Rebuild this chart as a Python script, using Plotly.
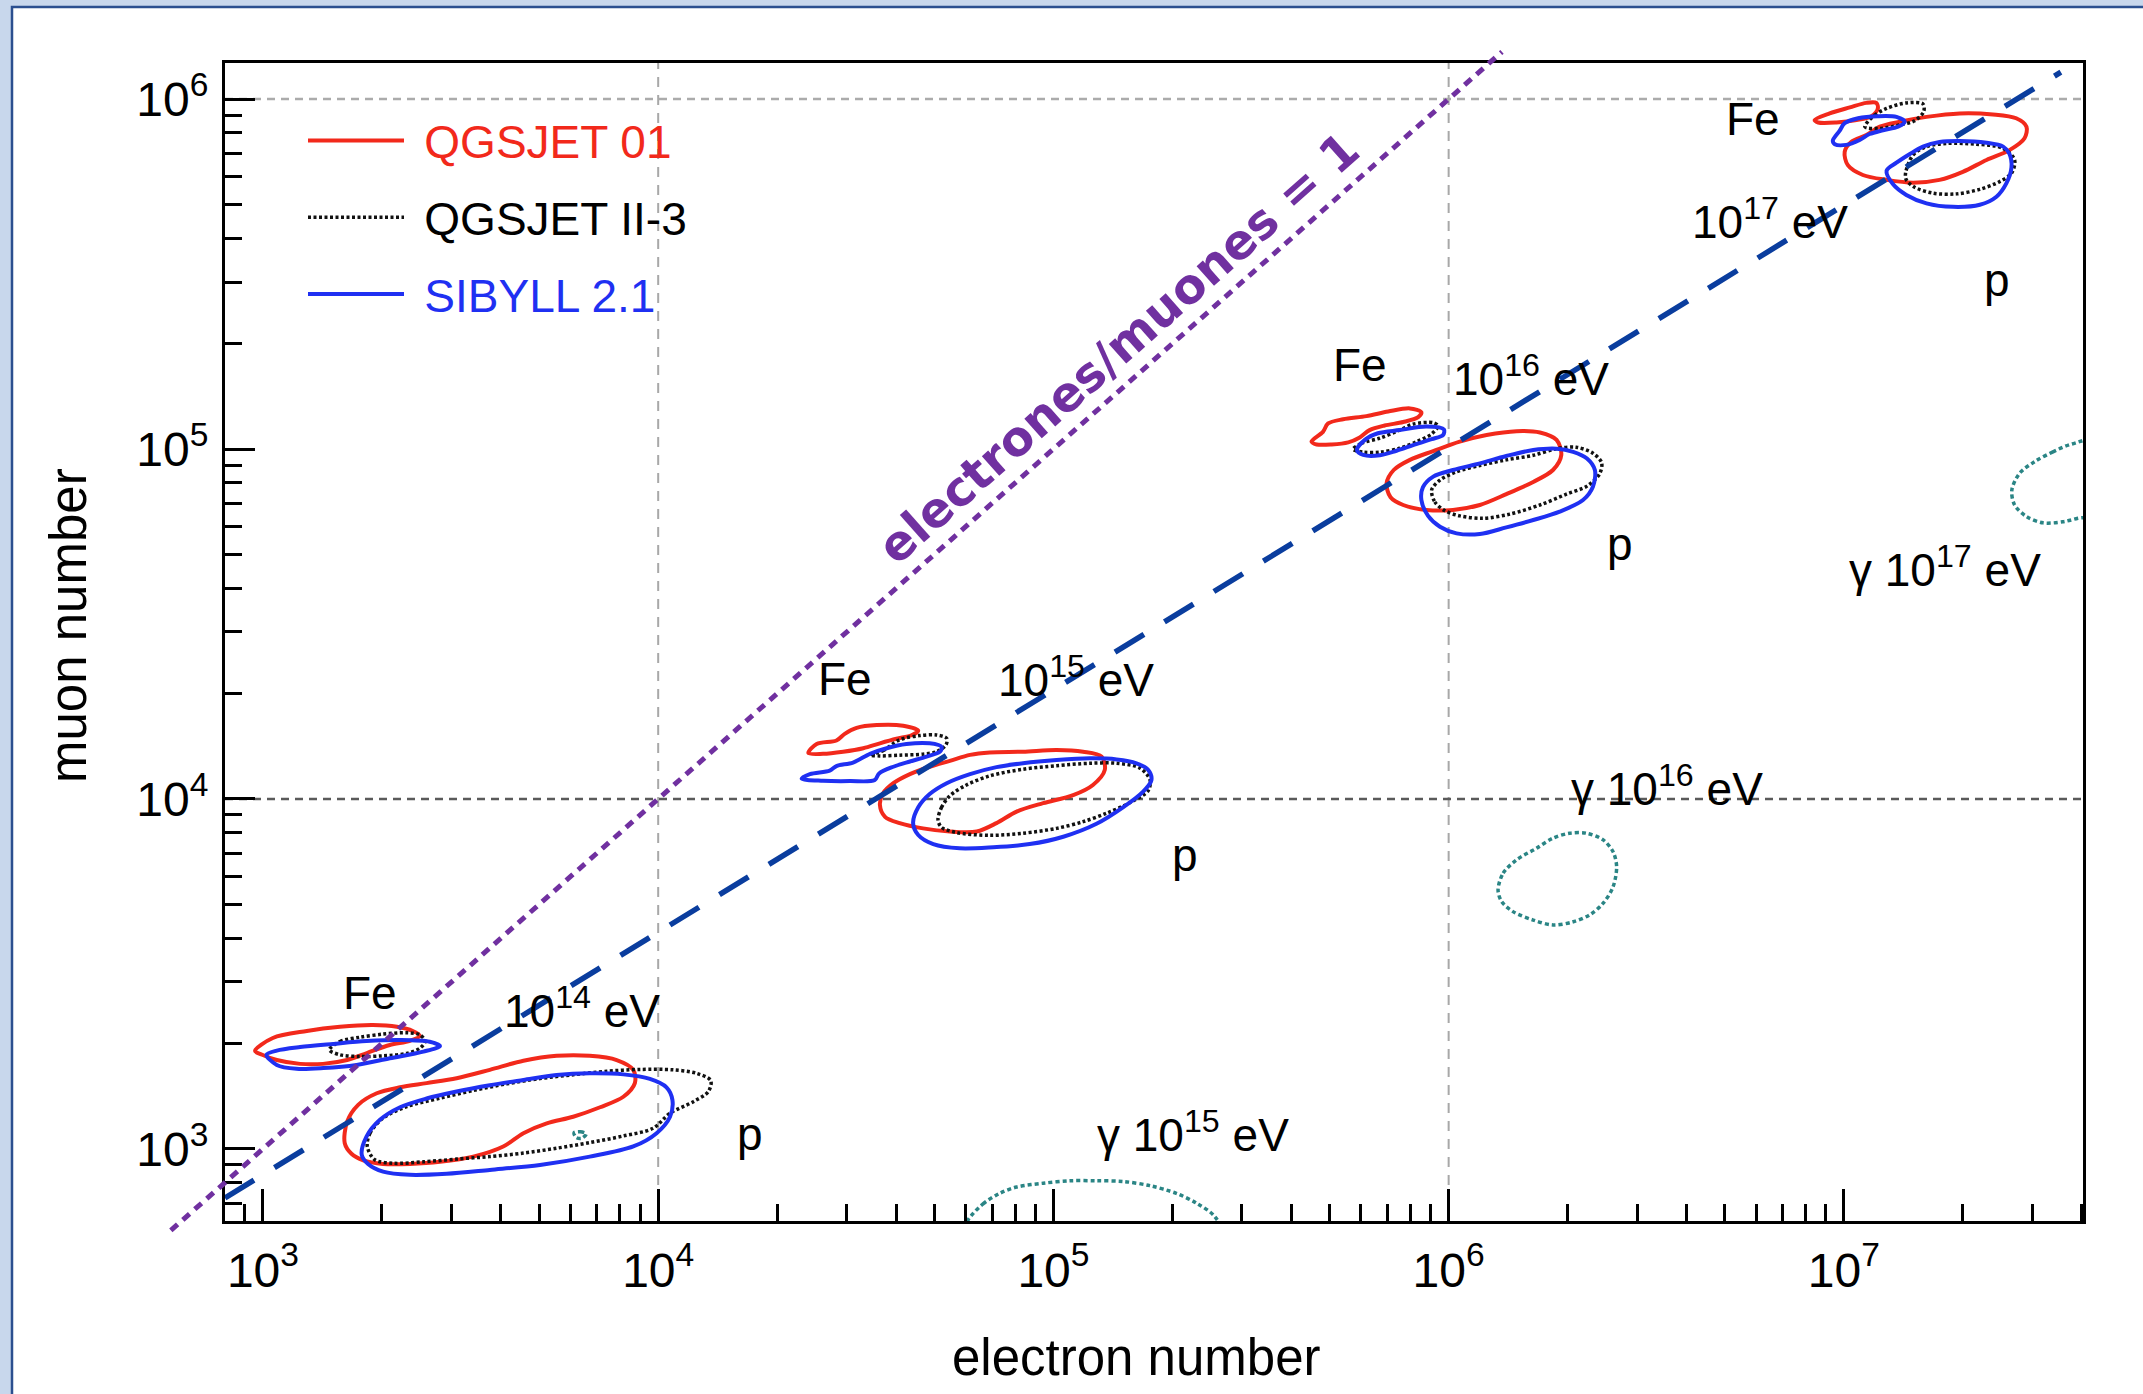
import plotly.graph_objects as go

# ---------------------------------------------------------------------------
# Shower-size contours in the (electron number, muon number) plane.
# All coordinates are log10 values: lg_ne = log10(N_e), lg_nmu = log10(N_mu).
# ---------------------------------------------------------------------------

# ---- 10^14 eV ----
qgs01_fe14_lgne = [2.980, 3.025, 3.111, 3.195, 3.278, 3.339, 3.379, 3.397, 3.372, 3.321, 3.263, 3.213, 3.152, 3.094, 3.035, 2.998]
qgs01_fe14_lgnmu = [3.280, 3.317, 3.337, 3.349, 3.354, 3.349, 3.337, 3.323, 3.309, 3.297, 3.274, 3.254, 3.243, 3.243, 3.254, 3.269]
qgs2_fe14_lgne = [3.168, 3.195, 3.245, 3.304, 3.364, 3.397, 3.410, 3.397, 3.364, 3.304, 3.245, 3.195]
qgs2_fe14_lgnmu = [3.283, 3.307, 3.319, 3.328, 3.332, 3.326, 3.307, 3.288, 3.273, 3.266, 3.264, 3.269]
sib_fe14_lgne = [3.009, 3.035, 3.085, 3.153, 3.237, 3.321, 3.406, 3.448, 3.422, 3.347, 3.262, 3.178, 3.094, 3.035]
sib_fe14_lgnmu = [3.269, 3.240, 3.229, 3.231, 3.240, 3.259, 3.278, 3.294, 3.306, 3.311, 3.308, 3.300, 3.291, 3.281]

qgs01_p14_lgne = [3.207, 3.224, 3.254, 3.304, 3.372, 3.448, 3.532, 3.608, 3.659, 3.718, 3.785, 3.853, 3.912, 3.941, 3.937, 3.895, 3.827, 3.743, 3.659, 3.574, 3.490, 3.414, 3.347, 3.288, 3.241, 3.213]
qgs01_p14_lgnmu = [3.016, 2.986, 2.967, 2.957, 2.957, 2.963, 2.978, 3.007, 3.045, 3.073, 3.092, 3.119, 3.149, 3.188, 3.226, 3.254, 3.266, 3.266, 3.252, 3.226, 3.202, 3.188, 3.176, 3.159, 3.126, 3.078]
qgs2_p14_lgne = [3.264, 3.271, 3.304, 3.364, 3.448, 3.532, 3.617, 3.701, 3.785, 3.870, 3.954, 4.038, 4.097, 4.133, 4.127, 4.089, 4.030, 3.987, 3.912, 3.827, 3.743, 3.659, 3.574, 3.490, 3.406, 3.330, 3.283]
qgs2_p14_lgnmu = [3.007, 3.045, 3.088, 3.121, 3.145, 3.167, 3.186, 3.201, 3.212, 3.222, 3.227, 3.226, 3.216, 3.195, 3.164, 3.135, 3.102, 3.059, 3.037, 3.018, 3.002, 2.988, 2.978, 2.971, 2.963, 2.959, 2.969]
sib_p14_lgne = [3.250, 3.266, 3.304, 3.372, 3.465, 3.574, 3.701, 3.827, 3.937, 3.996, 4.030, 4.036, 4.021, 3.979, 3.912, 3.827, 3.743, 3.659, 3.574, 3.490, 3.414, 3.347, 3.296, 3.262]
sib_p14_lgnmu = [2.983, 2.957, 2.935, 2.926, 2.929, 2.940, 2.954, 2.978, 3.007, 3.045, 3.092, 3.140, 3.176, 3.200, 3.213, 3.216, 3.211, 3.197, 3.182, 3.164, 3.144, 3.119, 3.083, 3.035]

gamma14_lgne = [3.787, 3.803, 3.818, 3.806, 3.792]
gamma14_lgnmu = [3.046, 3.049, 3.043, 3.030, 3.033]

# ---- 10^15 eV ----
qgs01_fe15_lgne = [4.380, 4.401, 4.451, 4.472, 4.502, 4.553, 4.620, 4.658, 4.641, 4.603, 4.561, 4.519, 4.468, 4.417]
qgs01_fe15_lgnmu = [4.131, 4.157, 4.167, 4.186, 4.203, 4.211, 4.209, 4.195, 4.182, 4.172, 4.159, 4.145, 4.135, 4.129]
qgs2_fe15_lgne = [4.536, 4.569, 4.611, 4.662, 4.704, 4.730, 4.728, 4.704, 4.670, 4.611, 4.561]
qgs2_fe15_lgnmu = [4.126, 4.138, 4.169, 4.181, 4.183, 4.173, 4.154, 4.135, 4.128, 4.125, 4.123]
sib_fe15_lgne = [4.363, 4.417, 4.485, 4.548, 4.559, 4.595, 4.637, 4.679, 4.713, 4.717, 4.687, 4.628, 4.578, 4.536, 4.493, 4.451, 4.434, 4.384]
sib_fe15_lgnmu = [4.058, 4.052, 4.051, 4.054, 4.073, 4.092, 4.107, 4.121, 4.135, 4.149, 4.159, 4.157, 4.145, 4.129, 4.104, 4.094, 4.081, 4.071]

qgs01_p15_lgne = [4.561, 4.574, 4.611, 4.670, 4.738, 4.806, 4.856, 4.907, 4.974, 5.050, 5.100, 5.130, 5.122, 5.075, 5.008, 4.923, 4.839, 4.789, 4.738, 4.687, 4.637, 4.595, 4.569]
qgs01_p15_lgnmu = [3.983, 3.949, 3.931, 3.916, 3.907, 3.907, 3.931, 3.964, 3.988, 4.011, 4.040, 4.083, 4.121, 4.135, 4.140, 4.135, 4.133, 4.126, 4.109, 4.092, 4.071, 4.045, 4.016]
qgs2_p15_lgne = [4.708, 4.717, 4.738, 4.780, 4.839, 4.923, 5.008, 5.092, 5.160, 5.219, 5.244, 5.240, 5.193, 5.134, 5.075, 5.008, 4.923, 4.839, 4.755, 4.717]
qgs2_p15_lgnmu = [3.940, 3.976, 4.009, 4.040, 4.066, 4.085, 4.095, 4.102, 4.102, 4.088, 4.056, 4.024, 3.989, 3.959, 3.935, 3.916, 3.902, 3.896, 3.904, 3.919]
sib_p15_lgne = [4.645, 4.658, 4.696, 4.763, 4.848, 4.940, 5.025, 5.109, 5.176, 5.227, 5.248, 5.240, 5.210, 5.160, 5.092, 5.008, 4.923, 4.856, 4.789, 4.730, 4.687, 4.658]
sib_p15_lgnmu = [3.931, 3.897, 3.871, 3.859, 3.862, 3.871, 3.892, 3.929, 3.976, 4.021, 4.054, 4.083, 4.102, 4.113, 4.116, 4.111, 4.102, 4.091, 4.071, 4.045, 4.014, 3.976]

gamma15_lgne = [4.784, 4.822, 4.864, 4.907, 4.974, 5.042, 5.109, 5.176, 5.244, 5.311, 5.362, 5.408, 5.434, 4.763]
gamma15_lgnmu = [2.797, 2.843, 2.873, 2.891, 2.902, 2.909, 2.909, 2.907, 2.895, 2.873, 2.845, 2.807, 2.740, 2.740]

# ---- 10^16 eV ----
qgs01_fe16_lgne = [5.653, 5.682, 5.695, 5.733, 5.792, 5.847, 5.902, 5.931, 5.923, 5.885, 5.838, 5.800, 5.775, 5.746, 5.704, 5.666]
qgs01_fe16_lgnmu = [5.021, 5.049, 5.073, 5.085, 5.094, 5.107, 5.116, 5.105, 5.091, 5.077, 5.067, 5.054, 5.033, 5.019, 5.013, 5.013]
qgs2_fe16_lgne = [5.758, 5.779, 5.826, 5.876, 5.910, 5.961, 5.973, 5.957, 5.919, 5.876, 5.826, 5.784]
qgs2_fe16_lgnmu = [4.999, 5.016, 5.031, 5.054, 5.071, 5.075, 5.066, 5.043, 5.021, 5.002, 4.991, 4.991]
sib_fe16_lgne = [5.768, 5.788, 5.821, 5.876, 5.944, 5.988, 5.986, 5.957, 5.910, 5.868, 5.826, 5.784]
sib_fe16_lgnmu = [4.997, 5.026, 5.045, 5.054, 5.064, 5.056, 5.040, 5.028, 5.011, 4.995, 4.982, 4.983]

qgs01_p16_lgne = [5.843, 5.853, 5.885, 5.944, 6.011, 6.079, 6.146, 6.214, 6.264, 6.285, 6.273, 6.231, 6.172, 6.096, 6.028, 5.961, 5.902, 5.861]
qgs01_p16_lgnmu = [4.902, 4.862, 4.840, 4.826, 4.826, 4.840, 4.871, 4.906, 4.940, 4.983, 5.026, 5.047, 5.051, 5.040, 5.021, 4.994, 4.969, 4.940]
qgs2_p16_lgne = [5.957, 5.965, 5.990, 6.028, 6.087, 6.155, 6.231, 6.298, 6.350, 6.382, 6.387, 6.365, 6.323, 6.273, 6.214, 6.146, 6.079, 6.020, 5.978]
qgs2_p16_lgnmu = [4.883, 4.849, 4.824, 4.809, 4.802, 4.814, 4.840, 4.871, 4.894, 4.929, 4.961, 4.988, 5.005, 5.001, 4.982, 4.969, 4.953, 4.935, 4.911]
sib_p16_lgne = [5.931, 5.948, 5.978, 6.020, 6.079, 6.146, 6.214, 6.281, 6.340, 6.365, 6.370, 6.350, 6.315, 6.273, 6.214, 6.146, 6.079, 6.011, 5.961, 5.935]
sib_p16_lgnmu = [4.854, 4.809, 4.778, 4.759, 4.757, 4.776, 4.797, 4.821, 4.854, 4.892, 4.940, 4.973, 4.992, 5.001, 4.997, 4.980, 4.959, 4.940, 4.921, 4.891]

gamma16_lgne = [6.125, 6.138, 6.172, 6.222, 6.264, 6.306, 6.349, 6.391, 6.416, 6.425, 6.416, 6.391, 6.357, 6.315, 6.264, 6.214, 6.163, 6.134]
gamma16_lgnmu = [3.740, 3.788, 3.826, 3.859, 3.888, 3.902, 3.902, 3.883, 3.849, 3.807, 3.749, 3.702, 3.669, 3.649, 3.640, 3.654, 3.678, 3.707]

# ---- 10^17 eV ----
qgs01_fe17_lgne = [6.926, 6.964, 7.015, 7.057, 7.082, 7.086, 7.070, 7.032, 6.981, 6.935]
qgs01_fe17_lgnmu = [5.940, 5.959, 5.976, 5.989, 5.989, 5.973, 5.951, 5.940, 5.933, 5.933]
qgs2_fe17_lgne = [7.053, 7.078, 7.108, 7.158, 7.200, 7.202, 7.179, 7.141, 7.091]
qgs2_fe17_lgnmu = [5.921, 5.954, 5.973, 5.989, 5.986, 5.964, 5.938, 5.926, 5.916]
sib_fe17_lgne = [6.972, 6.989, 7.002, 7.036, 7.086, 7.133, 7.154, 7.137, 7.099, 7.065, 7.040, 7.006, 6.977]
sib_fe17_lgnmu = [5.881, 5.909, 5.931, 5.945, 5.951, 5.949, 5.935, 5.921, 5.911, 5.900, 5.883, 5.869, 5.871]

qgs01_p17_lgne = [7.002, 7.010, 7.048, 7.108, 7.175, 7.242, 7.301, 7.361, 7.419, 7.457, 7.462, 7.436, 7.377, 7.293, 7.209, 7.141, 7.091, 7.057, 7.019]
qgs01_p17_lgnmu = [5.849, 5.811, 5.783, 5.769, 5.761, 5.769, 5.792, 5.826, 5.854, 5.888, 5.921, 5.945, 5.956, 5.959, 5.949, 5.935, 5.921, 5.897, 5.878]
qgs2_p17_lgne = [7.156, 7.175, 7.209, 7.259, 7.335, 7.403, 7.432, 7.424, 7.394, 7.344, 7.285, 7.226, 7.179, 7.158]
qgs2_p17_lgnmu = [5.788, 5.840, 5.864, 5.873, 5.871, 5.859, 5.826, 5.788, 5.764, 5.742, 5.729, 5.731, 5.748, 5.769]
sib_p17_lgne = [7.108, 7.124, 7.158, 7.209, 7.276, 7.344, 7.386, 7.411, 7.424, 7.419, 7.403, 7.361, 7.293, 7.242, 7.200, 7.167, 7.133]
sib_p17_lgnmu = [5.795, 5.757, 5.726, 5.702, 5.692, 5.698, 5.721, 5.759, 5.805, 5.843, 5.864, 5.875, 5.880, 5.877, 5.864, 5.843, 5.818]

gamma17_lgne = [7.576, 7.529, 7.483, 7.445, 7.425, 7.432, 7.462, 7.504, 7.554, 7.592, 7.672, 7.672]
gamma17_lgnmu = [5.014, 4.992, 4.964, 4.931, 4.883, 4.840, 4.807, 4.789, 4.792, 4.802, 4.820, 5.030]

# ---- reference lines ----
fit_lgne = [2.904, 7.549]          # mean hadron-shower correlation
fit_lgnmu = [2.860, 6.077]
ratio1_lg = [2.767, 6.135]         # N_e / N_mu = 1

# ---- axis ticks ----
x_tick_vals = [1e3, 1e4, 1e5, 1e6, 1e7]
x_tick_text = ["10<sup>3</sup>", "10<sup>4</sup>", "10<sup>5</sup>", "10<sup>6</sup>", "10<sup>7</sup>"]
y_tick_vals = [1e3, 1e4, 1e5, 1e6]
y_tick_text = ["10<sup>3</sup>", "10<sup>4</sup>", "10<sup>5</sup>", "10<sup>6</sup>"]

# ---- text labels (text, lg_ne, lg_nmu) ----
labels = [
    ("Fe", 3.271, 3.446), ("10<sup>14</sup> eV", 3.807, 3.403), ("p", 4.232, 3.043),
    ("Fe", 4.472, 4.343), ("10<sup>15</sup> eV", 5.057, 4.349), ("p", 5.332, 3.840),
    ("γ 10<sup>15</sup> eV", 5.353, 3.049),
    ("Fe", 5.775, 5.240), ("10<sup>16</sup> eV", 6.208, 5.209), ("p", 6.433, 4.729),
    ("γ 10<sup>16</sup> eV", 6.552, 4.037),
    ("Fe", 6.769, 5.943), ("10<sup>17</sup> eV", 6.812, 5.657), ("p", 7.387, 5.483),
    ("γ 10<sup>17</sup> eV", 7.255, 4.663),
]

models = ["QGSJET 01", "QGSJET II-3", "SIBYLL 2.1"]
model_contours = {
    "QGSJET 01": [(qgs01_fe14_lgne, qgs01_fe14_lgnmu), (qgs01_p14_lgne, qgs01_p14_lgnmu),
                  (qgs01_fe15_lgne, qgs01_fe15_lgnmu), (qgs01_p15_lgne, qgs01_p15_lgnmu),
                  (qgs01_fe16_lgne, qgs01_fe16_lgnmu), (qgs01_p16_lgne, qgs01_p16_lgnmu),
                  (qgs01_fe17_lgne, qgs01_fe17_lgnmu), (qgs01_p17_lgne, qgs01_p17_lgnmu)],
    "QGSJET II-3": [(qgs2_fe14_lgne, qgs2_fe14_lgnmu), (qgs2_p14_lgne, qgs2_p14_lgnmu),
                    (qgs2_fe15_lgne, qgs2_fe15_lgnmu), (qgs2_p15_lgne, qgs2_p15_lgnmu),
                    (qgs2_fe16_lgne, qgs2_fe16_lgnmu), (qgs2_p16_lgne, qgs2_p16_lgnmu),
                    (qgs2_fe17_lgne, qgs2_fe17_lgnmu), (qgs2_p17_lgne, qgs2_p17_lgnmu)],
    "SIBYLL 2.1": [(sib_fe14_lgne, sib_fe14_lgnmu), (sib_p14_lgne, sib_p14_lgnmu),
                   (sib_fe15_lgne, sib_fe15_lgnmu), (sib_p15_lgne, sib_p15_lgnmu),
                   (sib_fe16_lgne, sib_fe16_lgnmu), (sib_p16_lgne, sib_p16_lgnmu),
                   (sib_fe17_lgne, sib_fe17_lgnmu), (sib_p17_lgne, sib_p17_lgnmu)],
}
gamma_contours = [(gamma14_lgne, gamma14_lgnmu), (gamma15_lgne, gamma15_lgnmu),
                  (gamma16_lgne, gamma16_lgnmu), (gamma17_lgne, gamma17_lgnmu)]

model_style = {
    "QGSJET 01": dict(color="#f2291b", width=4, dash="solid"),
    "QGSJET II-3": dict(color="#111111", width=3.5, dash="3px,2.5px"),
    "SIBYLL 2.1": dict(color="#1f30f2", width=4, dash="solid"),
}
legend_text_color = {"QGSJET 01": "#f2291b", "QGSJET II-3": "#000000", "SIBYLL 2.1": "#1f30f2"}
GAMMA_STYLE = dict(color="#2a8585", width=3.5, dash="4px,3px")

FONT = "Liberation Sans, Arial, Helvetica, sans-serif"
LEGEND_PAD = "\u2004"   # three-per-em space between legend sample and name

# ---- page geometry (pixels) ----
W, H = 2143, 1394
AREA_L, AREA_R, AREA_T, AREA_B = 120, 2083, 40, 1274      # plotting area incl. overflow zone
FRAME_L, FRAME_R, FRAME_T, FRAME_B = 225, 2083, 63, 1221  # main axes frame
X_RANGE = [2.904, 7.605]
Y_RANGE = [2.794, 6.103]


def px_to_paper_x(px):
    return (px - AREA_L) / (AREA_R - AREA_L)


def px_to_paper_y(py):
    return (AREA_B - py) / (AREA_B - AREA_T)


def unlog(vals):
    return [10 ** v for v in vals]


def closed(xs, ys):
    return unlog(list(xs) + [xs[0]]), unlog(list(ys) + [ys[0]])


# auxiliary axes that share the main scale but extend beyond the frame
ppd_x = (FRAME_R - FRAME_L) / (X_RANGE[1] - X_RANGE[0])
ppd_y = (FRAME_B - FRAME_T) / (Y_RANGE[1] - Y_RANGE[0])
X2_RANGE = [X_RANGE[0] - (FRAME_L - AREA_L) / ppd_x, X_RANGE[1] + (AREA_R - FRAME_R) / ppd_x]
Y2_RANGE = [Y_RANGE[0] - (AREA_B - FRAME_B) / ppd_y, Y_RANGE[1] + (FRAME_T - AREA_T) / ppd_y]

fig = go.Figure()

for model in models:
    for i, (lx, ly) in enumerate(model_contours[model]):
        xs, ys = closed(lx, ly)
        fig.add_trace(go.Scatter(
            x=xs, y=ys, mode="lines",
            line=dict(shape="spline", smoothing=0.9, **model_style[model]),
            name='<span style="color:%s">%s%s</span>' % (legend_text_color[model], LEGEND_PAD, model),
            legendgroup=model, showlegend=(i == 0), hoverinfo="skip",
        ))

for lx, ly in gamma_contours:
    xs, ys = closed(lx, ly)
    fig.add_trace(go.Scatter(
        x=xs, y=ys, mode="lines", line=dict(shape="spline", smoothing=0.9, **GAMMA_STYLE),
        showlegend=False, hoverinfo="skip",
    ))

# correlation line of hadronic showers
fig.add_trace(go.Scatter(
    x=unlog(fit_lgne), y=unlog(fit_lgnmu), mode="lines",
    line=dict(color="#0a3d9e", width=5.5, dash="34px,24px"),
    showlegend=False, hoverinfo="skip",
))

# N_e / N_mu = 1 line (drawn on the auxiliary axes so it may run past the frame)
fig.add_trace(go.Scatter(
    x=unlog(ratio1_lg), y=unlog(ratio1_lg), mode="lines",
    line=dict(color="#7030a0", width=5, dash="9px,7px"),
    xaxis="x2", yaxis="y2", showlegend=False, hoverinfo="skip",
))

shapes = [
    # white panel with dark blue edge
    dict(type="rect", xref="paper", yref="paper",
         x0=px_to_paper_x(12), x1=px_to_paper_x(W + 20),
         y0=px_to_paper_y(H + 20), y1=px_to_paper_y(7),
         fillcolor="white", line=dict(color="#2b4f8f", width=2.5), layer="below"),
]
for gx in [1e4, 1e6]:
    shapes.append(dict(type="line", xref="x", yref="y domain", x0=gx, x1=gx, y0=0, y1=1,
                       line=dict(color="#a8a8a8", width=2, dash="10px,8px"), layer="below"))
shapes.append(dict(type="line", xref="x domain", yref="y", x0=0, x1=1, y0=1e4, y1=1e4,
                   line=dict(color="#5a5a5a", width=2.5, dash="8px,6px"), layer="below"))
shapes.append(dict(type="line", xref="x domain", yref="y", x0=0, x1=1, y0=1e6, y1=1e6,
                   line=dict(color="#ababab", width=2.5, dash="8px,6px"), layer="below"))

annotations = [
    dict(text=t, x=lx, y=ly, xref="x", yref="y", showarrow=False,
         font=dict(family=FONT, size=46, color="black"))
    for t, lx, ly in labels
]
annotations.append(dict(
    text="<b>electrones/muones = 1</b>", x=5.163, y=5.290, xref="x", yref="y",
    showarrow=False, textangle=-41.5,
    font=dict(family="DejaVu Sans, Verdana, sans-serif", size=48, color="#7030a0"),
))
# axis titles
annotations.append(dict(
    text="electron number", x=px_to_paper_x(1136), y=px_to_paper_y(1357),
    xref="paper", yref="paper", xanchor="center", yanchor="middle", showarrow=False,
    font=dict(family=FONT, size=51, color="black"),
))
annotations.append(dict(
    text="muon number", x=px_to_paper_x(68), y=px_to_paper_y(626),
    xref="paper", yref="paper", xanchor="center", yanchor="middle", showarrow=False,
    textangle=-90, font=dict(family=FONT, size=51, color="black"),
))

axis_common = dict(
    type="log", showgrid=False, zeroline=False,
    showline=True, linecolor="black", linewidth=3, mirror=True,
    ticks="inside", tickwidth=3, tickcolor="black",
    tickfont=dict(family=FONT, size=48, color="black"),
    minor=dict(ticks="inside", dtick="D1", ticklen=17, tickwidth=3, tickcolor="black", showgrid=False),
    automargin=False,
)

fig.update_layout(
    width=W, height=H,
    margin=dict(l=AREA_L, r=W - AREA_R, t=AREA_T, b=H - AREA_B, pad=0),
    paper_bgcolor="#c8d7ec",
    plot_bgcolor="rgba(0,0,0,0)",
    xaxis=dict(axis_common, range=X_RANGE, domain=[px_to_paper_x(FRAME_L), px_to_paper_x(FRAME_R)],
               tickvals=x_tick_vals, ticktext=x_tick_text, ticklen=32, ticklabelstandoff=5,
               anchor="y"),
    yaxis=dict(axis_common, range=Y_RANGE, domain=[px_to_paper_y(FRAME_B), px_to_paper_y(FRAME_T)],
               tickvals=y_tick_vals, ticktext=y_tick_text, ticklen=30, ticklabelstandoff=4,
               anchor="x"),
    xaxis2=dict(type="log", range=X2_RANGE, domain=[0, 1], anchor="y2", visible=False,
                showticklabels=False),
    yaxis2=dict(type="log", range=Y2_RANGE, domain=[0, 1], anchor="x2", visible=False,
                showticklabels=False),
    shapes=shapes,
    annotations=annotations,
    showlegend=True,
    legend=dict(
        x=px_to_paper_x(303), y=px_to_paper_y(104), xanchor="left", yanchor="top",
        bgcolor="rgba(0,0,0,0)", borderwidth=0,
        font=dict(family=FONT, size=46, color="black"),
        itemwidth=96, tracegroupgap=14, traceorder="grouped",
    ),
)

fig.write_html("out.html")
